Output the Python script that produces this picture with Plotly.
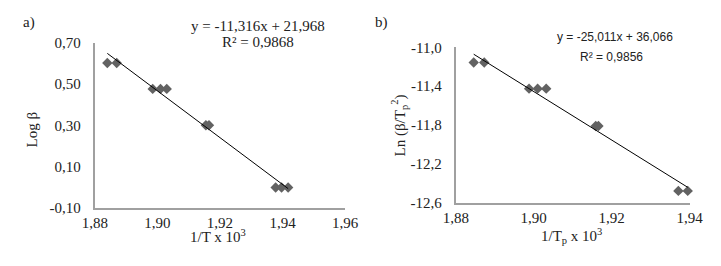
import plotly.graph_objects as go

# ---- data ----
inv_T_a = [1.884, 1.887, 1.8985, 1.901, 1.903, 1.9155, 1.9165, 1.9378, 1.9397, 1.9418]
log_beta = [0.602, 0.602, 0.477, 0.477, 0.477, 0.301, 0.301, 0.0, 0.0, 0.0]
slope_a, intercept_a = -11.316, 21.968

inv_T_b = [1.8846, 1.8873, 1.8988, 1.901, 1.9032, 1.9159, 1.9166, 1.9371, 1.9395]
ln_beta_T2 = [-11.155, -11.155, -11.425, -11.425, -11.425, -11.81, -11.81, -12.48, -12.48]
slope_b, intercept_b = -25.011, 36.066

xticks_a = [1.88, 1.90, 1.92, 1.94, 1.96]
xticklabels_a = ["1,88", "1,90", "1,92", "1,94", "1,96"]
yticks_a = [-0.10, 0.10, 0.30, 0.50, 0.70]
yticklabels_a = ["-0,10", "0,10", "0,30", "0,50", "0,70"]

xticks_b = [1.88, 1.90, 1.92, 1.94]
xticklabels_b = ["1,88", "1,90", "1,92", "1,94"]
yticks_b = [-12.6, -12.2, -11.8, -11.4, -11.0]
yticklabels_b = ["-12,6", "-12,2", "-11,8", "-11,4", "-11,0"]

eq_a = ["y = -11,316x + 21,968", "R² = 0,9868"]
eq_b = ["y = -25,011x + 36,066", "R² = 0,9856"]

W, H = 721, 266
def px(x):
    return x / W
def py(y):
    return 1 - y / H

serif = "Liberation Serif"
marker = dict(symbol="diamond", size=8, color="#626262")

fig = go.Figure()

# panel a
fig.add_trace(go.Scatter(x=inv_T_a, y=log_beta, mode="markers", marker=marker,
                         xaxis="x", yaxis="y", showlegend=False, cliponaxis=False))
xa = [min(inv_T_a), max(inv_T_a)]
fig.add_trace(go.Scatter(x=xa, y=[slope_a * v + intercept_a for v in xa], mode="lines",
                         line=dict(color="black", width=1), xaxis="x", yaxis="y",
                         showlegend=False, cliponaxis=False))
# panel b
fig.add_trace(go.Scatter(x=inv_T_b, y=ln_beta_T2, mode="markers", marker=marker,
                         xaxis="x2", yaxis="y2", showlegend=False, cliponaxis=False))
xb = [min(inv_T_b), max(inv_T_b)]
fig.add_trace(go.Scatter(x=xb, y=[slope_b * v + intercept_b for v in xb], mode="lines",
                         line=dict(color="black", width=1), xaxis="x2", yaxis="y2",
                         showlegend=False, cliponaxis=False))

axis_common = dict(showgrid=False, zeroline=False, showline=True, linecolor="#a0a0a0",
                   linewidth=2, ticks="",
                   tickfont=dict(family=serif, size=15, color="#222"))

fig.update_layout(
    width=W, height=H, margin=dict(l=0, r=0, t=0, b=0),
    paper_bgcolor="white", plot_bgcolor="white",
    xaxis=dict(domain=[px(85), px(345)], range=[1.88, 1.96], tickvals=xticks_a,
               ticktext=xticklabels_a, anchor="y", ticklabelstandoff=0, **axis_common),
    yaxis=dict(domain=[py(213), py(37)], range=[-0.10, 0.70], tickvals=yticks_a,
               ticktext=yticklabels_a, anchor="x", ticklabelstandoff=9, **axis_common),
    xaxis2=dict(domain=[px(460), px(703)], range=[1.88, 1.94], tickvals=xticks_b,
                ticktext=xticklabels_b, anchor="y2", ticklabelstandoff=0, **axis_common),
    yaxis2=dict(domain=[py(207), py(42)], range=[-12.6, -11.0], tickvals=yticks_b,
                ticktext=yticklabels_b, anchor="x2", ticklabelstandoff=9, **axis_common),
)

ann = []
def add(text, x, y, size=15, family=serif, angle=0, color="#222"):
    ann.append(dict(text=text, x=px(x), y=py(y), xref="paper", yref="paper",
                    showarrow=False, textangle=angle, xanchor="center", yanchor="middle",
                    font=dict(family=family, size=size, color=color)))

add("a)", 17, 15)
add("b)", 383, 15)
add(eq_a[0], 255, 19)
add(eq_a[1], 255, 36)
add(eq_b[0], 625, 31, size=12, family="Liberation Sans")
add(eq_b[1], 622, 52, size=12, family="Liberation Sans")
add("Log β", 20, 129, angle=-90)
add("Ln (β/T<sub>p</sub><sup>2</sup>)", 402, 125, angle=-90)
add("1/T x 10<sup>3</sup>", 213, 243)
add("1/T<sub>p</sub> x 10<sup>3</sup>", 580, 243)
fig.update_layout(annotations=ann)

fig.write_html("out.html", config={"displayModeBar": False},
               post_script="document.body.style.margin='0px';")
